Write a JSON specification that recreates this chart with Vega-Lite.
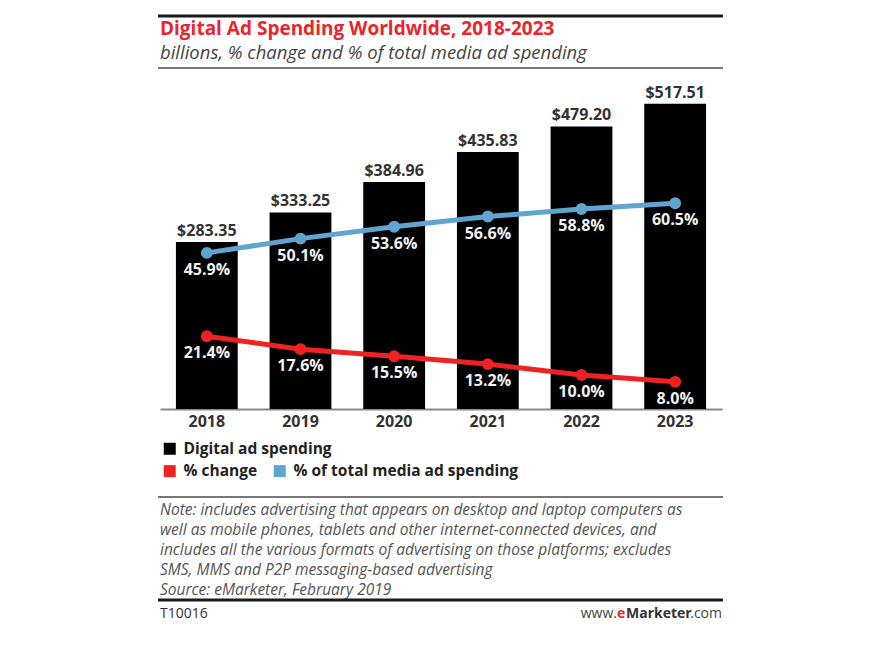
{
  "$schema": "https://vega.github.io/schema/vega-lite/v6.json",
  "width": 562,
  "height": 319,
  "autosize": {"type": "none"},
  "padding": {"left": 160, "top": 90, "right": 149, "bottom": 244},
  "background": "white",
  "config": {"view": {"stroke": null}, "font": "Open Sans"},
  "datasets": {
    "spend": [
      {"year": "2018", "spending": 283.35, "series": "Digital ad spending"},
      {"year": "2019", "spending": 333.25, "series": "Digital ad spending"},
      {"year": "2020", "spending": 384.96, "series": "Digital ad spending"},
      {"year": "2021", "spending": 435.83, "series": "Digital ad spending"},
      {"year": "2022", "spending": 479.20, "series": "Digital ad spending"},
      {"year": "2023", "spending": 517.51, "series": "Digital ad spending"}
    ],
    "pct": [
      {"year": "2018", "metric": "% change", "value": 0.214},
      {"year": "2019", "metric": "% change", "value": 0.176},
      {"year": "2020", "metric": "% change", "value": 0.155},
      {"year": "2021", "metric": "% change", "value": 0.132},
      {"year": "2022", "metric": "% change", "value": 0.100},
      {"year": "2023", "metric": "% change", "value": 0.080},
      {"year": "2018", "metric": "% of total media ad spending", "value": 0.459},
      {"year": "2019", "metric": "% of total media ad spending", "value": 0.501},
      {"year": "2020", "metric": "% of total media ad spending", "value": 0.536},
      {"year": "2021", "metric": "% of total media ad spending", "value": 0.566},
      {"year": "2022", "metric": "% of total media ad spending", "value": 0.588},
      {"year": "2023", "metric": "% of total media ad spending", "value": 0.605}
    ]
  },
  "layer": [
    {
      "data": {"name": "spend"},
      "layer": [
        {
          "mark": {"type": "bar"},
          "encoding": {
            "x": {
              "field": "year", "type": "ordinal",
              "scale": {"paddingInner": 0.34, "paddingOuter": 0.17},
              "axis": {
                "title": null, "labelAngle": 0, "ticks": false,
                "labelFont": "Open Sans", "labelFontSize": 16, "labelFontWeight": "bold",
                "labelColor": "#333333", "labelPadding": 4,
                "domainColor": "#888888", "domainWidth": 2
              }
            },
            "y": {
              "field": "spending", "type": "quantitative",
              "scale": {"domain": [0, 541], "nice": false, "zero": true},
              "axis": null
            },
            "fill": {
              "field": "series", "type": "nominal",
              "scale": {"range": ["#000000"]},
              "legend": {
                "orient": "none", "legendX": 2, "legendY": 351,
                "title": null, "symbolType": "square", "symbolSize": 144,
                "symbolStrokeWidth": 0, "labelFontSize": 15.5, "labelFontWeight": "bold",
                "labelColor": "#222222", "labelOffset": 6, "labelFont": "Open Sans", "labelLimit": 0
              }
            }
          }
        },
        {
          "mark": {"type": "text", "baseline": "bottom", "dy": -3, "fontSize": 16, "fontWeight": "bold", "color": "#333333", "font": "Open Sans"},
          "encoding": {
            "x": {"field": "year", "type": "ordinal"},
            "y": {"field": "spending", "type": "quantitative", "scale": {"domain": [0, 541], "nice": false}},
            "text": {"field": "spending", "type": "quantitative", "format": "$.2f"}
          }
        }
      ]
    },
    {
      "data": {"name": "pct"},
      "layer": [
        {
          "mark": {"type": "point", "filled": true, "opacity": 1, "size": 140},
          "encoding": {
            "x": {"field": "year", "type": "ordinal"},
            "y": {"field": "value", "type": "quantitative", "scale": {"domain": [0, 0.938], "nice": false}, "axis": null},
            "color": {
              "field": "metric", "type": "nominal",
              "scale": {"domain": ["% change", "% of total media ad spending"], "range": ["#ee2222", "#60a5cf"]},
              "legend": {
                "orient": "none", "legendX": 2, "legendY": 373, "direction": "horizontal",
                "title": null, "symbolType": "square", "symbolSize": 144,
                "symbolStrokeWidth": 0, "labelFontSize": 15.5, "labelFontWeight": "bold",
                "labelColor": "#222222", "labelOffset": 6, "columnPadding": 14, "labelFont": "Open Sans", "labelLimit": 0
              }
            }
          }
        },
        {
          "mark": {"type": "line", "strokeWidth": 5},
          "encoding": {
            "x": {"field": "year", "type": "ordinal"},
            "y": {"field": "value", "type": "quantitative", "scale": {"domain": [0, 0.938], "nice": false}},
            "color": {"field": "metric", "type": "nominal"}
          }
        },
        {
          "mark": {"type": "text", "baseline": "middle", "dy": 17, "fontSize": 16, "fontWeight": "bold", "color": "#f2f2f2", "font": "Open Sans"},
          "encoding": {
            "x": {"field": "year", "type": "ordinal"},
            "y": {"field": "value", "type": "quantitative", "scale": {"domain": [0, 0.938], "nice": false}},
            "text": {"field": "value", "type": "quantitative", "format": ".1%"}
          }
        }
      ]
    },
    {
      "data": {"values": [{}]},
      "layer": [
        {"mark": {"type": "rule", "color": "#1a1a1a", "strokeWidth": 3}, "encoding": {"x": {"value": -2}, "x2": {"value": 563}, "y": {"value": -74}}},
        {"mark": {"type": "text", "align": "left", "baseline": "alphabetic", "fontSize": 19, "fontWeight": "bold", "color": "#e8262b", "font": "Open Sans", "text": "Digital Ad Spending Worldwide, 2018-2023"}, "encoding": {"x": {"value": 0}, "y": {"value": -55}}},
        {"mark": {"type": "text", "align": "left", "baseline": "alphabetic", "fontSize": 18.5, "fontStyle": "italic", "color": "#444444", "font": "Open Sans", "text": "billions, % change and % of total media ad spending"}, "encoding": {"x": {"value": 0}, "y": {"value": -31}}},
        {"mark": {"type": "rule", "color": "#777777", "strokeWidth": 2}, "encoding": {"x": {"value": -2}, "x2": {"value": 563}, "y": {"value": -22}}},
        {"mark": {"type": "rule", "color": "#777777", "strokeWidth": 2}, "encoding": {"x": {"value": -2}, "x2": {"value": 563}, "y": {"value": 407}}},
        {"mark": {"type": "text", "align": "left", "baseline": "alphabetic", "fontSize": 15.5, "fontStyle": "italic", "color": "#555555", "font": "Open Sans", "lineHeight": 20, "text": ["Note: includes advertising that appears on desktop and laptop computers as", "well as mobile phones, tablets and other internet-connected devices, and", "includes all the various formats of advertising on those platforms; excludes", "SMS, MMS and P2P messaging-based advertising", "Source: eMarketer, February 2019"]}, "encoding": {"x": {"value": 0}, "y": {"value": 425}}},
        {"mark": {"type": "rule", "color": "#1a1a1a", "strokeWidth": 3}, "encoding": {"x": {"value": -2}, "x2": {"value": 563}, "y": {"value": 510}}},
        {"mark": {"type": "text", "align": "left", "baseline": "alphabetic", "fontSize": 14, "color": "#333333", "font": "Open Sans", "text": "T10016"}, "encoding": {"x": {"value": 0}, "y": {"value": 528}}},
        {"mark": {"type": "text", "align": "right", "baseline": "alphabetic", "fontSize": 14, "color": "#444444", "font": "Open Sans", "text": "www."}, "encoding": {"x": {"value": 457}, "y": {"value": 528}}},
        {"mark": {"type": "text", "align": "left", "baseline": "alphabetic", "fontSize": 14, "fontWeight": "bold", "color": "#e8262b", "font": "Open Sans", "text": "e"}, "encoding": {"x": {"value": 457}, "y": {"value": 528}}},
        {"mark": {"type": "text", "align": "left", "baseline": "alphabetic", "fontSize": 14, "fontWeight": "bold", "color": "#333333", "font": "Open Sans", "text": "Marketer"}, "encoding": {"x": {"value": 466}, "y": {"value": 528}}},
        {"mark": {"type": "text", "align": "right", "baseline": "alphabetic", "fontSize": 14, "color": "#444444", "font": "Open Sans", "text": ".com"}, "encoding": {"x": {"value": 562}, "y": {"value": 528}}}
      ]
    }
  ],
  "resolve": {"scale": {"y": "independent"}}
}
